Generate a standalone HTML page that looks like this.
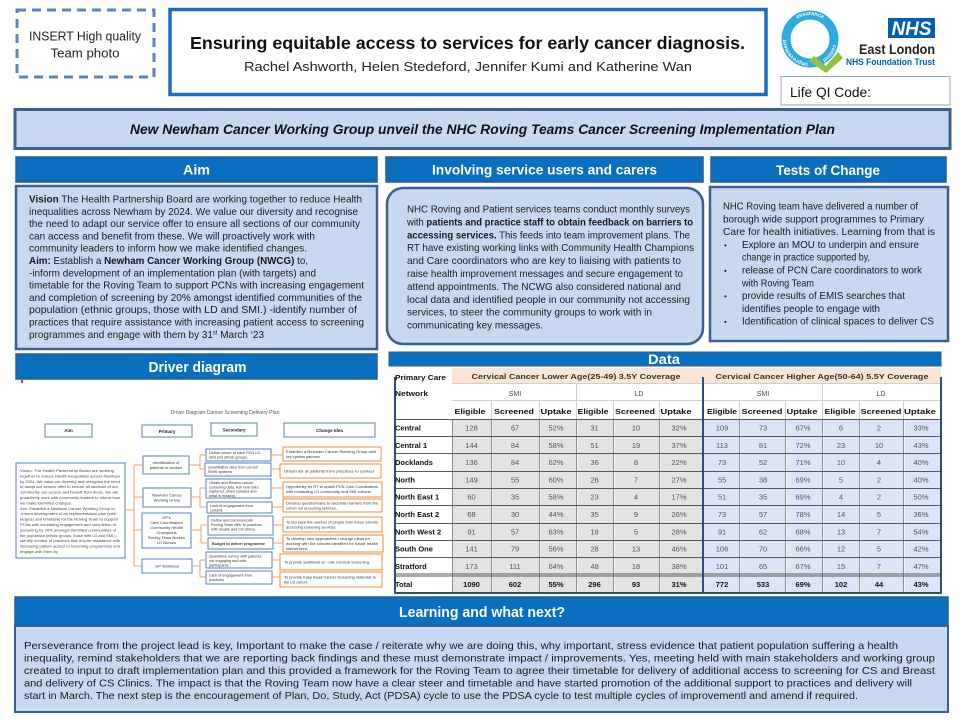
<!DOCTYPE html>
<html><head><meta charset="utf-8"><style>
html,body{margin:0;padding:0;background:#fff;}
svg{display:block;}
text{font-family:"Liberation Sans",Arial,sans-serif;}
</style></head><body>
<svg width="960" height="720" viewBox="0 0 960 720" xmlns="http://www.w3.org/2000/svg">
<rect width="960" height="720" fill="#fff"/>

<!-- photo placeholder -->
<rect x="17" y="10" width="137" height="67" fill="none" stroke="#5b84b8" stroke-width="3" stroke-dasharray="9 6"/>
<text x="85" y="40.5" font-size="13" text-anchor="middle" textLength="112" lengthAdjust="spacingAndGlyphs" fill="#222">INSERT High quality</text>
<text x="85" y="57.5" font-size="13" text-anchor="middle" textLength="69" lengthAdjust="spacingAndGlyphs" fill="#222">Team photo</text>

<!-- title -->
<rect x="170" y="9.5" width="596" height="85" fill="#fff" stroke="#1a6fc2" stroke-width="3.5"/>
<text x="467.5" y="49" font-size="17.5" font-weight="bold" text-anchor="middle" textLength="555" lengthAdjust="spacingAndGlyphs" fill="#111">Ensuring  equitable access to services for early cancer diagnosis.</text>
<text x="468" y="71" font-size="13" text-anchor="middle" textLength="448" lengthAdjust="spacingAndGlyphs" fill="#222">Rachel Ashworth, Helen Stedeford, Jennifer  Kumi and Katherine Wan</text>

<!-- logo Q -->
<defs>
<path id="ring" d="M786,39 a24,24 0 1,1 48,0 a24,24 0 1,1 -48,0"/>
</defs>
<circle cx="810" cy="39" r="24" fill="none" stroke="#2eaadf" stroke-width="9"/>
<text font-size="5.5" font-weight="bold" fill="#fff"><textPath href="#ring" startOffset="25%" text-anchor="middle">assurance</textPath></text>
<text font-size="5.5" font-weight="bold" fill="#fff"><textPath href="#ring" startOffset="60%" text-anchor="middle">control</textPath></text>
<text font-size="5.5" font-weight="bold" fill="#fff"><textPath href="#ring" startOffset="88%" text-anchor="middle">improvement</textPath></text>
<polygon points="814,56 826,66 838,52 843,58 826,73 809,61" fill="#8cc63f"/>

<!-- NHS logo -->
<rect x="888" y="18" width="47" height="20" fill="#005eb8"/>
<text x="911.5" y="35" font-size="19" font-weight="bold" font-style="italic" text-anchor="middle" textLength="40" lengthAdjust="spacingAndGlyphs" fill="#fff">NHS</text>
<text x="935" y="54" font-size="14" font-weight="bold" text-anchor="end" textLength="76" lengthAdjust="spacingAndGlyphs" fill="#231f20">East London</text>
<text x="935" y="65" font-size="9" font-weight="bold" text-anchor="end" textLength="89" lengthAdjust="spacingAndGlyphs" fill="#005eb8">NHS Foundation Trust</text>

<!-- Life QI -->
<rect x="781" y="76.5" width="169" height="28.5" fill="#fff" stroke="#8aa6c8" stroke-width="1"/>
<text x="790" y="97" font-size="14" textLength="81" lengthAdjust="spacingAndGlyphs" fill="#111">Life QI Code:</text>

<!-- banner -->
<rect x="15" y="109.5" width="935" height="39" fill="#c6d9f1" stroke="#3d5f8c" stroke-width="3"/>
<text x="482.5" y="134" font-size="13.5" font-weight="bold" font-style="italic" text-anchor="middle" textLength="705" lengthAdjust="spacingAndGlyphs" fill="#111">New Newham Cancer Working Group unveil the NHC Roving Teams Cancer Screening Implementation Plan</text>

<!-- section headers -->
<rect x="16" y="157" width="361" height="25" fill="#0b6fbf" stroke="#2a5d92" stroke-width="1.5"/>
<text x="196.5" y="174.5" font-size="14" font-weight="bold" text-anchor="middle" textLength="27" lengthAdjust="spacingAndGlyphs" fill="#fff">Aim</text>
<rect x="386" y="157" width="317" height="25" fill="#0b6fbf" stroke="#2a5d92" stroke-width="1.5"/>
<text x="544.5" y="174.5" font-size="14" font-weight="bold" text-anchor="middle" textLength="225" lengthAdjust="spacingAndGlyphs" fill="#fff">Involving service users and carers</text>
<rect x="711" y="157" width="235" height="25" fill="#0b6fbf" stroke="#2a5d92" stroke-width="1.5"/>
<text x="828" y="175" font-size="14" font-weight="bold" text-anchor="middle" textLength="104" lengthAdjust="spacingAndGlyphs" fill="#fff">Tests of Change</text>

<!-- Aim box -->
<rect x="16" y="186" width="361" height="163" fill="#c6d9f1" stroke="#3d5f8c" stroke-width="2.5"/>
<g font-size="10.2" fill="#1a1a1a">
<text x="29" y="202.5" textLength="333" lengthAdjust="spacingAndGlyphs"><tspan font-weight="bold">Vision</tspan> The Health Partnership Board are working together to reduce Health</text>
<text x="29" y="214.8" textLength="329" lengthAdjust="spacingAndGlyphs">inequalities across Newham by 2024. We value our diversity and recognise</text>
<text x="29" y="227.1" textLength="331" lengthAdjust="spacingAndGlyphs">the need to adapt our service offer to ensure all sections of our community</text>
<text x="29" y="239.4" textLength="286" lengthAdjust="spacingAndGlyphs">can access and benefit from these. We will proactively work with</text>
<text x="29" y="251.7" textLength="278" lengthAdjust="spacingAndGlyphs">community leaders to inform how we make identified changes.</text>
<text x="29" y="264" textLength="279" lengthAdjust="spacingAndGlyphs"><tspan font-weight="bold">Aim:</tspan> Establish a <tspan font-weight="bold">Newham Cancer Working Group  (NWCG)</tspan> to,</text>
<text x="29" y="276.3" textLength="287" lengthAdjust="spacingAndGlyphs">-inform development of an implementation plan (with targets) and</text>
<text x="29" y="288.6" textLength="335" lengthAdjust="spacingAndGlyphs">timetable for the Roving Team to support PCNs with increasing engagement</text>
<text x="29" y="300.9" textLength="333" lengthAdjust="spacingAndGlyphs">and completion of screening by 20% amongst identified communities of the</text>
<text x="29" y="313.2" textLength="328" lengthAdjust="spacingAndGlyphs">population (ethnic groups, those with LD and SMI.) -identify number of</text>
<text x="29" y="325.5" textLength="335" lengthAdjust="spacingAndGlyphs">practices that require assistance with increasing patient access to screening</text>
<text x="29" y="337.8" textLength="235" lengthAdjust="spacingAndGlyphs">programmes and engage with them by 31<tspan font-size="6" dy="-3.5">st</tspan><tspan dy="3.5"> March ‘23</tspan></text>
</g>

<!-- Involving box -->
<rect x="387" y="188" width="316" height="156" rx="16" ry="16" fill="#c6d9f1" stroke="#3d5f8c" stroke-width="2.5"/>
<g font-size="10.2" fill="#1a1a1a">
<text x="407" y="212.5" textLength="283" lengthAdjust="spacingAndGlyphs">NHC Roving and Patient services teams conduct monthly surveys</text>
<text x="407" y="225.4" textLength="286" lengthAdjust="spacingAndGlyphs">with <tspan font-weight="bold">patients and practice staff to obtain feedback on barriers to</tspan></text>
<text x="407" y="238.3" textLength="283" lengthAdjust="spacingAndGlyphs"><tspan font-weight="bold">accessing services.</tspan> This feeds into team improvement plans. The</text>
<text x="407" y="251.2" textLength="287" lengthAdjust="spacingAndGlyphs">RT have existing working links with Community Health Champions</text>
<text x="407" y="264.1" textLength="274" lengthAdjust="spacingAndGlyphs">and Care coordinators who are key to liaising with patients to</text>
<text x="407" y="277" textLength="276" lengthAdjust="spacingAndGlyphs">raise health improvement messages and secure engagement to</text>
<text x="407" y="289.9" textLength="274" lengthAdjust="spacingAndGlyphs">attend appointments. The NCWG also considered national and</text>
<text x="407" y="302.8" textLength="283" lengthAdjust="spacingAndGlyphs">local data  and identified people in our community not accessing</text>
<text x="407" y="315.7" textLength="245" lengthAdjust="spacingAndGlyphs">services, to steer the community groups to work with in</text>
<text x="407" y="328.6" textLength="136" lengthAdjust="spacingAndGlyphs">communicating key messages.</text>
</g>

<!-- Tests box -->
<rect x="710" y="187" width="238" height="154" fill="#c6d9f1" stroke="#3d5f8c" stroke-width="2.5"/>
<g font-size="10.2" fill="#1a1a1a">
<text x="723" y="209.5" textLength="195" lengthAdjust="spacingAndGlyphs">NHC Roving team have delivered a number of</text>
<text x="723" y="222.3" textLength="201" lengthAdjust="spacingAndGlyphs">borough wide support programmes to Primary</text>
<text x="723" y="235.1" textLength="212" lengthAdjust="spacingAndGlyphs">Care  for health initiatives.  Learning from that is</text>
<text x="724" y="247.9" font-size="8">•</text>
<text x="742" y="247.9" textLength="177" lengthAdjust="spacingAndGlyphs">Explore an MOU to underpin and ensure</text>
<text x="742" y="260.7" textLength="128" lengthAdjust="spacingAndGlyphs">change in practice supported by,</text>
<text x="724" y="273.5" font-size="8">•</text>
<text x="742" y="273.5" textLength="180" lengthAdjust="spacingAndGlyphs">release of PCN Care coordinators to work</text>
<text x="742" y="286.3" textLength="72" lengthAdjust="spacingAndGlyphs">with Roving Team</text>
<text x="724" y="299.1" font-size="8">•</text>
<text x="742" y="299.1" textLength="163" lengthAdjust="spacingAndGlyphs">provide results of EMIS searches that</text>
<text x="742" y="311.9" textLength="138" lengthAdjust="spacingAndGlyphs">identifies people to engage with</text>
<text x="724" y="324.7" font-size="8">•</text>
<text x="742" y="324.7" textLength="192" lengthAdjust="spacingAndGlyphs">Identification of clinical spaces to deliver CS</text>
</g>

<!-- Driver diagram header -->
<rect x="16" y="354" width="361" height="25" fill="#0b6fbf" stroke="#2a5d92" stroke-width="1.5"/>
<text x="197.5" y="372" font-size="15" font-weight="bold" text-anchor="middle" textLength="98" lengthAdjust="spacingAndGlyphs" fill="#fff">Driver diagram</text>
<rect x="21" y="380" width="2" height="3" fill="#e03030"/>

<!-- Driver diagram -->
<g>
<text x="225" y="414" font-size="5.3" text-anchor="middle" textLength="109" lengthAdjust="spacingAndGlyphs" fill="#555">Driver Diagram Cancer Screening Delivery Plan</text>
<g fill="#fff" stroke="#5a7fc0" stroke-width="1">
<rect x="45" y="424" width="47" height="13"/>
<rect x="142" y="425" width="50" height="12"/>
<rect x="211" y="423" width="46" height="13"/>
<rect x="284" y="423" width="91" height="14"/>
<rect x="16" y="463" width="109" height="95"/>
<rect x="143" y="456" width="46" height="18"/>
<rect x="143" y="488" width="48" height="19"/>
<rect x="142" y="513" width="49" height="35"/>
<rect x="142" y="559" width="50" height="14"/>
<rect x="206" y="449" width="65" height="12"/>
<rect x="205" y="463" width="66" height="13"/>
<rect x="206" y="479" width="65" height="19"/>
<rect x="207" y="502" width="65" height="11"/>
<rect x="208" y="516" width="65" height="19"/>
<rect x="208" y="538" width="65" height="11"/>
<rect x="206" y="552" width="66" height="16"/>
<rect x="206" y="571" width="66" height="13"/>
</g>
<g fill="#fff" stroke="#e98b3f" stroke-width="1">
<rect x="283" y="447" width="98" height="14"/>
<rect x="280" y="464" width="101" height="14"/>
<rect x="283" y="482" width="99" height="15"/>
<rect x="283" y="499" width="99" height="13"/>
<rect x="283" y="517" width="99" height="15"/>
<rect x="283" y="535" width="100" height="17"/>
<rect x="280" y="554" width="102" height="16"/>
<rect x="280" y="572" width="102" height="15"/>
</g>
<g fill="none" stroke="#f0a060" stroke-width="1">
<path d="M125,510 H134 M134,465 V566 M134,465 H143 M134,497 H143 M134,530 H142 M134,566 H142"/>
<path d="M189,465 H200 M200,455 V469 M200,455 H206 M200,469 H205"/>
<path d="M191,497 H200 M200,488 V507 M200,488 H206 M200,507 H207"/>
<path d="M191,530 H201 M201,525 V543 M201,525 H208 M201,543 H208"/>
<path d="M192,566 H200 M200,560 V577 M200,560 H206 M200,577 H206"/>
<path d="M271,455 H283 M271,469 H280 M271,488 H283 M272,507 H283 M273,525 H283 M273,543 H283 M272,560 H280 M272,577 H280"/>
</g>
<g font-size="4.5" font-weight="bold" fill="#222" text-anchor="middle">
<text x="68.5" y="432">Aim</text>
<text x="167" y="433">Primary</text>
<text x="234" y="431.5">Secondary</text>
<text x="329.5" y="432">Change Idea</text>
</g>
<g font-size="4" fill="#444">
<text x="20" y="472" textLength="94" lengthAdjust="spacingAndGlyphs">Vision: The Health Partnership Board are working</text>
<text x="20" y="477.4" textLength="100" lengthAdjust="spacingAndGlyphs">together to reduce Health inequalities across Newham</text>
<text x="20" y="482.8" textLength="100" lengthAdjust="spacingAndGlyphs">by 2024. We value our diversity and recognise the need</text>
<text x="20" y="488.2" textLength="98" lengthAdjust="spacingAndGlyphs">to adapt our service offer to ensure all sections of our</text>
<text x="20" y="493.6" textLength="98" lengthAdjust="spacingAndGlyphs">community can access and benefit from these. We will</text>
<text x="20" y="499" textLength="100" lengthAdjust="spacingAndGlyphs">proactively work with community leaders to inform how</text>
<text x="20" y="504.4" textLength="52" lengthAdjust="spacingAndGlyphs">we make identified changes.</text>
<text x="20" y="509.8" textLength="96" lengthAdjust="spacingAndGlyphs">Aim: Establish a Newham Cancer Working Group to,</text>
<text x="20" y="515.2" textLength="96" lengthAdjust="spacingAndGlyphs">-inform development of an implementation plan (with</text>
<text x="20" y="520.6" textLength="98" lengthAdjust="spacingAndGlyphs">targets) and timetable for the Roving Team to support</text>
<text x="20" y="526" textLength="96" lengthAdjust="spacingAndGlyphs">PCNs with increasing engagement and completion of</text>
<text x="20" y="531.4" textLength="96" lengthAdjust="spacingAndGlyphs">screening by 20% amongst identified communities of</text>
<text x="20" y="536.8" textLength="98" lengthAdjust="spacingAndGlyphs">the population (ethnic groups, those with LD and SMI.) -</text>
<text x="20" y="542.2" textLength="100" lengthAdjust="spacingAndGlyphs">identify number of practices that require assistance with</text>
<text x="20" y="547.6" textLength="100" lengthAdjust="spacingAndGlyphs">increasing patient access to screening programmes and</text>
<text x="20" y="553" textLength="38" lengthAdjust="spacingAndGlyphs">engage with them by</text>
</g>
<g font-size="4" fill="#333" text-anchor="middle">
<text x="166" y="464">Identification of</text>
<text x="166" y="469">patients to contact</text>
<text x="167" y="496.5">Newham Cancer</text>
<text x="167" y="501.5">Working Group</text>
<text x="166.5" y="519">GP's</text>
<text x="166.5" y="524">Care Coordinators</text>
<text x="166.5" y="529">Community Health</text>
<text x="166.5" y="534">Champions</text>
<text x="166.5" y="539">Roving Team Nurses</text>
<text x="166.5" y="544">LD Nurses</text>
<text x="167" y="567.5">GP Workload</text>
</g>
<g font-size="3.8" fill="#333">
<text x="209" y="454">Define cohort at each PCN LD,</text>
<text x="209" y="458.5">SMI and ethnic groups.</text>
<text x="208" y="468.5">Quantitative data from current</text>
<text x="208" y="473">EMIS systems</text>
<text x="209" y="484">Obtain and Review cancer</text>
<text x="209" y="488.3">screening data. Ask how data</text>
<text x="209" y="492.6">captured, when collated and</text>
<text x="209" y="496.9">what is missing.</text>
<text x="210" y="507">Lack of engagement from</text>
<text x="210" y="511.5">cohorts</text>
<text x="211" y="521.5">Define and communicate</text>
<text x="211" y="526">Roving Team offer to practices</text>
<text x="211" y="530.5">with recalls and CS clinics.</text>
<text x="212" y="545" font-weight="bold">Budget to deliver programme</text>
<text x="209" y="557.5">Qualitative survey with patients</text>
<text x="209" y="562">not engaging and with</text>
<text x="209" y="566.5">participants.</text>
<text x="209" y="576.5">Lack of engagement from</text>
<text x="209" y="581">practices</text>
<text x="286" y="453" textLength="90" lengthAdjust="spacingAndGlyphs">Establish a Newham Cancer Steering Group with</text>
<text x="286" y="458">key system partners.</text>
<text x="284" y="472.5" textLength="90" lengthAdjust="spacingAndGlyphs">Obtain list of patients from practices to contact</text>
<text x="286" y="488" textLength="92" lengthAdjust="spacingAndGlyphs">Opportunity for RT to upskill PCN Care Coordinators</text>
<text x="286" y="493" textLength="86" lengthAdjust="spacingAndGlyphs">with contacting LD community and SMI cohorts.</text>
<text x="286" y="504.5" textLength="92" lengthAdjust="spacingAndGlyphs">Develop questionnaire to ascertain barriers from the</text>
<text x="286" y="509.5">cohort not accessing services.</text>
<text x="286" y="523.5" textLength="92" lengthAdjust="spacingAndGlyphs">To increase the number of people from these cohorts</text>
<text x="286" y="528.5">accessing screening services.</text>
<text x="286" y="540" textLength="84" lengthAdjust="spacingAndGlyphs">To develop new approaches / change ideas for</text>
<text x="286" y="545" textLength="92" lengthAdjust="spacingAndGlyphs">working with the cohorts identified for future health</text>
<text x="286" y="550">interventions</text>
<text x="284" y="563.5" textLength="86" lengthAdjust="spacingAndGlyphs">To provide additional on –site Cervical Screening.</text>
<text x="284" y="578.5" textLength="92" lengthAdjust="spacingAndGlyphs">To provide Easy Read Cancer Screening materials to</text>
<text x="284" y="583.5">the LD cohort.</text>
</g>
</g>

<!-- Data header -->
<rect x="389" y="352" width="552" height="14" fill="#0b6fbf" stroke="#2a5d92" stroke-width="1"/>
<text x="664" y="364" font-size="14" font-weight="bold" text-anchor="middle" textLength="32" lengthAdjust="spacingAndGlyphs" fill="#fff">Data</text>

<!-- Table -->
<rect x="452" y="368" width="251" height="15" fill="#fce4d6"/>
<rect x="703" y="368" width="238" height="15" fill="#fce4d6"/>
<rect x="452" y="419" width="251" height="173" fill="#e3e3e3"/>
<rect x="703" y="419" width="238" height="173" fill="#dbe5f7"/>
<g stroke="#cfcfcf" stroke-width="1" fill="none">
<path d="M452,383.5 H941 M452,400.5 H941 M576.5,383 V419 M822.5,383 V419"/>
<path d="M491.5,400 V419 M539.5,400 V419 M613.5,400 V419 M659.5,400 V419 M739.5,400 V419 M785.5,400 V419 M859.5,400 V419 M903.5,400 V419"/>
</g>
<g stroke="#f5f5f5" stroke-width="1" fill="none">
<path d="M492.5,419 V592 M540.5,419 V592 M577.5,419 V592 M614.5,419 V592 M660.5,419 V592 M740.5,419 V592 M786.5,419 V592 M823.5,419 V592 M860.5,419 V592 M904.5,419 V592"/>
</g>
<g stroke="#8f8f8f" stroke-width="1" fill="none">
<path d="M452.5,419 V592 M491.5,419 V592 M539.5,419 V592 M576.5,419 V592 M613.5,419 V592 M659.5,419 V592 M739.5,419 V592 M785.5,419 V592 M822.5,419 V592 M859.5,419 V592 M903.5,419 V592"/>
</g>
<g stroke="#5a5a5a" stroke-width="1" fill="none">
<path d="M394,419.5 H941 M394,436.5 H941 M394,453.5 H941 M394,471.5 H941 M394,488.5 H941 M394,505.5 H941 M394,523.5 H941 M394,540.5 H941 M394,557.5 H941 M394,574 H941 M394,576 H941"/>
</g>
<g stroke="#2d4d7c" stroke-width="2" fill="none">
<path d="M395,377 V593 H941 V377"/>
<path d="M703,377 V593"/>
</g>

<g font-size="7.5" font-weight="bold" fill="#333" text-anchor="middle">
<text x="576" y="379" textLength="209" lengthAdjust="spacingAndGlyphs">Cervical Cancer Lower Age(25-49) 3.5Y Coverage</text>
<text x="822" y="379" textLength="213" lengthAdjust="spacingAndGlyphs">Cervical Cancer Higher Age(50-64) 5.5Y Coverage</text>
</g>
<g font-size="7.5" font-weight="bold" fill="#111">
<text x="395" y="380" textLength="51" lengthAdjust="spacingAndGlyphs">Primary Care</text>
<text x="395" y="396" textLength="33" lengthAdjust="spacingAndGlyphs">Network</text>
</g>
<g font-size="7" fill="#444" text-anchor="middle">
<text x="515" y="396">SMI</text><text x="639" y="396">LD</text>
<text x="763" y="396">SMI</text><text x="881" y="396">LD</text>
</g>
<g font-size="7.5" font-weight="bold" fill="#111" text-anchor="middle">
<text x="470" y="414" textLength="31" lengthAdjust="spacingAndGlyphs">Eligible</text>
<text x="514" y="414" textLength="40" lengthAdjust="spacingAndGlyphs">Screened</text>
<text x="556" y="414" textLength="31" lengthAdjust="spacingAndGlyphs">Uptake</text>
<text x="593" y="414" textLength="31" lengthAdjust="spacingAndGlyphs">Eligible</text>
<text x="635" y="414" textLength="40" lengthAdjust="spacingAndGlyphs">Screened</text>
<text x="676" y="414" textLength="31" lengthAdjust="spacingAndGlyphs">Uptake</text>
<text x="722" y="414" textLength="30" lengthAdjust="spacingAndGlyphs">Eligible</text>
<text x="762" y="414" textLength="41" lengthAdjust="spacingAndGlyphs">Screened</text>
<text x="802" y="414" textLength="31" lengthAdjust="spacingAndGlyphs">Uptake</text>
<text x="840" y="414" textLength="31" lengthAdjust="spacingAndGlyphs">Eligible</text>
<text x="881" y="414" textLength="41" lengthAdjust="spacingAndGlyphs">Screened</text>
<text x="920" y="414" textLength="32" lengthAdjust="spacingAndGlyphs">Uptake</text>
</g>
<g font-size="7.5" font-weight="bold" fill="#111">
<text x="395" y="430.5">Central</text>
<text x="395" y="447.8">Central 1</text>
<text x="395" y="465.1">Docklands</text>
<text x="395" y="482.4">North</text>
<text x="395" y="499.7">North East 1</text>
<text x="395" y="517">North East 2</text>
<text x="395" y="534.3">North West 2</text>
<text x="395" y="551.6">South One</text>
<text x="395" y="568.9">Stratford</text>
<text x="395" y="587">Total</text>
</g>
<g font-size="7.5" fill="#555" text-anchor="middle">
<text y="430.5"><tspan x="471.5">128</tspan><tspan x="515">67</tspan><tspan x="556">52%</tspan><tspan x="594.5">31</tspan><tspan x="636">10</tspan><tspan x="679">32%</tspan><tspan x="722">109</tspan><tspan x="763">73</tspan><tspan x="803">67%</tspan><tspan x="841">6</tspan><tspan x="879">2</tspan><tspan x="921">33%</tspan></text>
<text y="447.8"><tspan x="471.5">144</tspan><tspan x="515">84</tspan><tspan x="556">58%</tspan><tspan x="594.5">51</tspan><tspan x="636">19</tspan><tspan x="679">37%</tspan><tspan x="722">113</tspan><tspan x="763">81</tspan><tspan x="803">72%</tspan><tspan x="841">23</tspan><tspan x="879">10</tspan><tspan x="921">43%</tspan></text>
<text y="465.1"><tspan x="471.5">136</tspan><tspan x="515">84</tspan><tspan x="556">62%</tspan><tspan x="594.5">36</tspan><tspan x="636">8</tspan><tspan x="679">22%</tspan><tspan x="722">73</tspan><tspan x="763">52</tspan><tspan x="803">71%</tspan><tspan x="841">10</tspan><tspan x="879">4</tspan><tspan x="921">40%</tspan></text>
<text y="482.4"><tspan x="471.5">149</tspan><tspan x="515">55</tspan><tspan x="556">60%</tspan><tspan x="594.5">26</tspan><tspan x="636">7</tspan><tspan x="679">27%</tspan><tspan x="722">55</tspan><tspan x="763">38</tspan><tspan x="803">69%</tspan><tspan x="841">5</tspan><tspan x="879">2</tspan><tspan x="921">40%</tspan></text>
<text y="499.7"><tspan x="471.5">60</tspan><tspan x="515">35</tspan><tspan x="556">58%</tspan><tspan x="594.5">23</tspan><tspan x="636">4</tspan><tspan x="679">17%</tspan><tspan x="722">51</tspan><tspan x="763">35</tspan><tspan x="803">69%</tspan><tspan x="841">4</tspan><tspan x="879">2</tspan><tspan x="921">50%</tspan></text>
<text y="517"><tspan x="471.5">68</tspan><tspan x="515">30</tspan><tspan x="556">44%</tspan><tspan x="594.5">35</tspan><tspan x="636">9</tspan><tspan x="679">26%</tspan><tspan x="722">73</tspan><tspan x="763">57</tspan><tspan x="803">78%</tspan><tspan x="841">14</tspan><tspan x="879">5</tspan><tspan x="921">36%</tspan></text>
<text y="534.3"><tspan x="471.5">91</tspan><tspan x="515">57</tspan><tspan x="556">63%</tspan><tspan x="594.5">18</tspan><tspan x="636">5</tspan><tspan x="679">28%</tspan><tspan x="722">91</tspan><tspan x="763">62</tspan><tspan x="803">68%</tspan><tspan x="841">13</tspan><tspan x="879">7</tspan><tspan x="921">54%</tspan></text>
<text y="551.6"><tspan x="471.5">141</tspan><tspan x="515">79</tspan><tspan x="556">56%</tspan><tspan x="594.5">28</tspan><tspan x="636">13</tspan><tspan x="679">46%</tspan><tspan x="722">106</tspan><tspan x="763">70</tspan><tspan x="803">66%</tspan><tspan x="841">12</tspan><tspan x="879">5</tspan><tspan x="921">42%</tspan></text>
<text y="568.9"><tspan x="471.5">173</tspan><tspan x="515">111</tspan><tspan x="556">64%</tspan><tspan x="594.5">48</tspan><tspan x="636">18</tspan><tspan x="679">38%</tspan><tspan x="722">101</tspan><tspan x="763">65</tspan><tspan x="803">67%</tspan><tspan x="841">15</tspan><tspan x="879">7</tspan><tspan x="921">47%</tspan></text>
</g>
<g font-size="7.5" font-weight="bold" fill="#111" text-anchor="middle">
<text y="587"><tspan x="471.5">1090</tspan><tspan x="515">602</tspan><tspan x="556">55%</tspan><tspan x="594.5">296</tspan><tspan x="636">93</tspan><tspan x="679">31%</tspan><tspan x="722">772</tspan><tspan x="763">533</tspan><tspan x="803">69%</tspan><tspan x="841">102</tspan><tspan x="879">44</tspan><tspan x="921">43%</tspan></text>
</g>

<!-- Learning -->
<rect x="15" y="597" width="933" height="29" fill="#0b6fbf" stroke="#2a5d92" stroke-width="1.5"/>
<text x="482" y="617" font-size="14.5" font-weight="bold" text-anchor="middle" textLength="166" lengthAdjust="spacingAndGlyphs" fill="#fff">Learning and what next?</text>
<rect x="15" y="626" width="933" height="86" fill="#c6d9f1" stroke="#3d5f8c" stroke-width="2"/>
<g font-size="10.2" fill="#1a1a1a">
<text x="24" y="649" textLength="874" lengthAdjust="spacingAndGlyphs">Perseverance from the project lead is key, Important to make the case / reiterate why we are doing this, why important, stress evidence that patient population suffering a health</text>
<text x="24" y="661.5" textLength="911" lengthAdjust="spacingAndGlyphs">inequality, remind stakeholders that we are reporting back findings and these must demonstrate impact / improvements. Yes, meeting held with main stakeholders and working group</text>
<text x="24" y="674" textLength="911" lengthAdjust="spacingAndGlyphs">created to input to draft implementation plan and this provided a framework for the Roving Team to agree their timetable for delivery of additional access to screening for CS and Breast</text>
<text x="24" y="686.5" textLength="888" lengthAdjust="spacingAndGlyphs">and delivery of CS Clinics. The impact is that the Roving Team now have a clear steer and timetable and have started promotion of the additional support to practices and delivery will</text>
<text x="24" y="699" textLength="834" lengthAdjust="spacingAndGlyphs">start in March. The next step is  the encouragement of Plan, Do, Study, Act (PDSA) cycle to use the PDSA cycle to test multiple cycles of improvementl and amend if required.</text>
</g>
</svg>
</body></html>
